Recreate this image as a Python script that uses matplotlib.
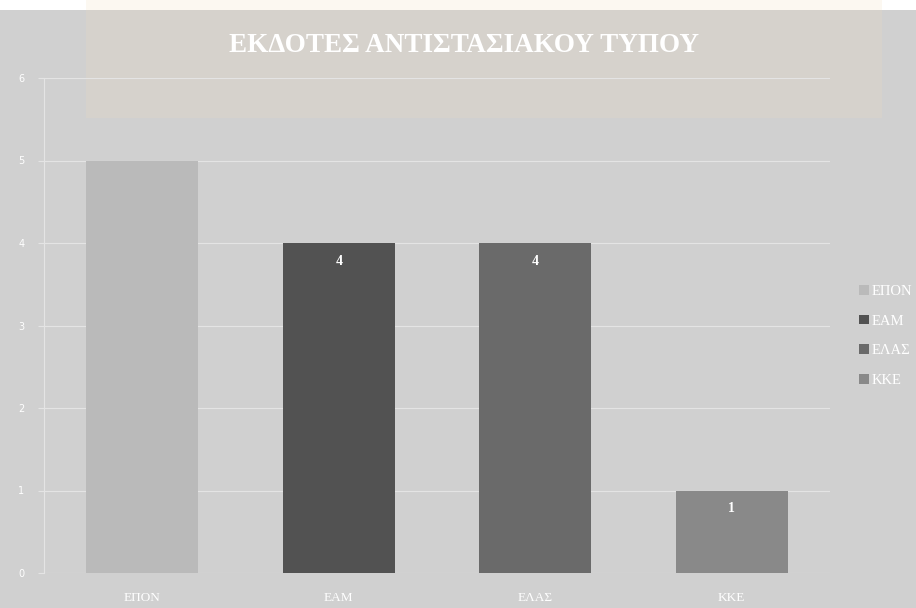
import matplotlib
matplotlib.use("Agg")
import matplotlib.pyplot as plt
from matplotlib.patches import Rectangle, Patch

categories = ["ΕΠΟΝ", "ΕΑΜ", "ΕΛΑΣ", "ΚΚΕ"]
values = [5, 4, 4, 1]
show_label = [False, True, True, True]
colors = ["#bababa", "#525252", "#6a6a6a", "#898989"]
yticks = [0, 1, 2, 3, 4, 5, 6]
title = "ΕΚΔΟΤΕΣ ΑΝΤΙΣΤΑΣΙΑΚΟΥ ΤΥΠΟΥ"

W, H = 916, 608
fig = plt.figure(figsize=(W / 100, H / 100), dpi=100)
fig.patch.set_facecolor("white")

# grey chart background below a thin white strip
fig.add_artist(Rectangle((0, 0), 1, (H - 10) / H, transform=fig.transFigure,
                         facecolor="#d0d0d0", edgecolor="none", zorder=0))
# title box
fig.add_artist(Rectangle((86 / W, (H - 118) / H), (882 - 86) / W, 108 / H,
                         transform=fig.transFigure, facecolor="#d6d2cc",
                         edgecolor="none", zorder=0.5))
fig.add_artist(Rectangle((86 / W, (H - 10) / H), (882 - 86) / W, 10 / H,
                         transform=fig.transFigure, facecolor="#fcf8f1",
                         edgecolor="none", zorder=0.5))

ax = fig.add_axes([44 / W, (H - 573) / H, (830 - 44) / W, (573 - 78) / H])
ax.set_facecolor("none")
ax.set_zorder(2)

x = list(range(len(categories)))
bars = ax.bar(x, values, width=0.57, color=colors, zorder=3)
ax.set_xlim(-0.5, len(categories) - 0.5)
ax.set_ylim(0, 6)
ax.set_yticks(yticks)
ax.set_yticklabels([str(t) for t in yticks], color="white", fontsize=7,
                   family="DejaVu Sans")
ax.set_xticks(x)
ax.set_xticklabels(categories, color="white", fontsize=9.5,
                   family="Liberation Serif")
ax.tick_params(axis="x", length=0, pad=14)
ax.tick_params(axis="y", length=4, color="#e4e4e4", width=0.8, pad=10)
ax.grid(axis="y", color="#e4e4e4", linewidth=0.8, zorder=1)
for s in ["top", "right", "bottom"]:
    ax.spines[s].set_visible(False)
ax.spines["left"].set_color("#e4e4e4")
ax.spines["left"].set_linewidth(0.8)

for b, v, show in zip(bars, values, show_label):
    if show:
        ax.annotate(str(v), (b.get_x() + b.get_width() / 2, v),
                    xytext=(0, -13), textcoords="offset points",
                    ha="center", va="center", color="white",
                    fontsize=10, fontweight="bold", family="Liberation Serif",
                    zorder=4)

fig.text(464 / W, (H - 45) / H, title, ha="center", va="center",
         color="white", fontsize=19.5, fontweight="bold",
         family="Liberation Serif", zorder=3)

handles = [Patch(facecolor=c, edgecolor="none") for c in colors]
leg = fig.legend(handles, categories, loc="center left",
                 bbox_to_anchor=(846 / W, (H - 336) / H), frameon=False,
                 handlelength=0.65, handleheight=0.65, handletextpad=0.2,
                 labelspacing=1.15,
                 prop={"family": "Liberation Serif", "size": 10.5})
for t in leg.get_texts():
    t.set_color("white")

fig.savefig("out.png", dpi=100, facecolor=fig.get_facecolor())
